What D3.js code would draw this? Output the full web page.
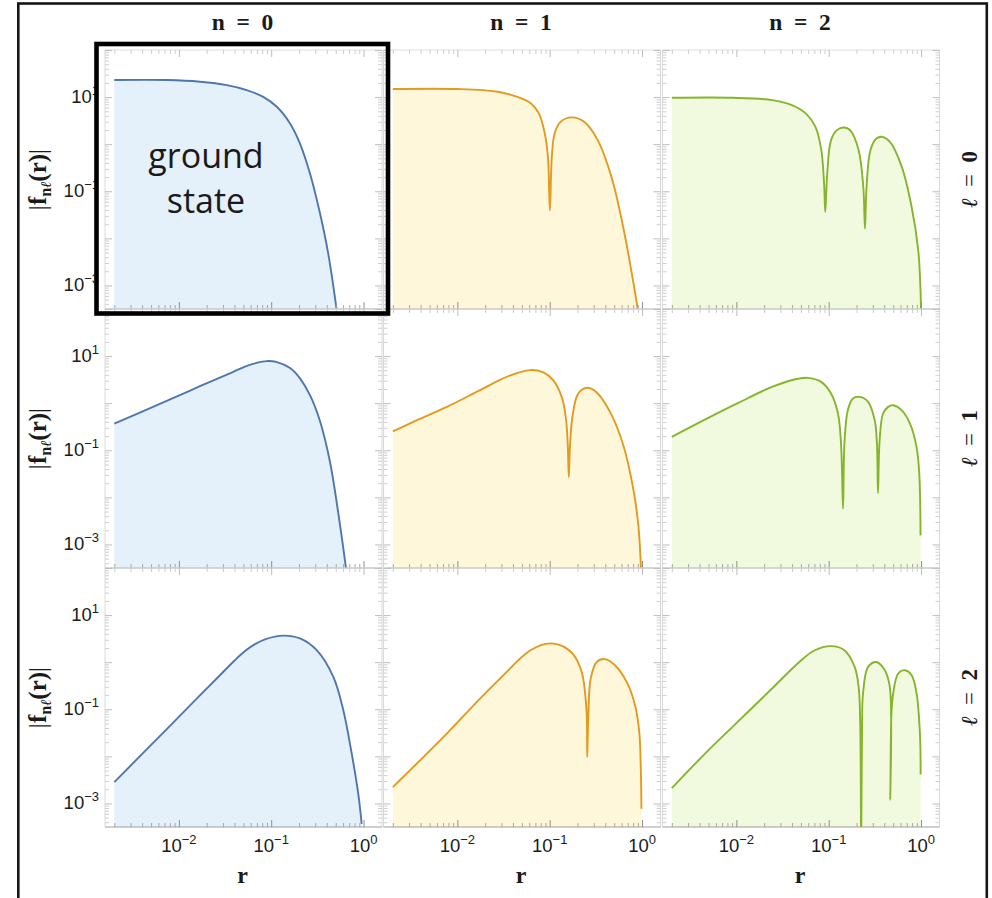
<!DOCTYPE html>
<html>
<head>
<meta charset="utf-8">
<script src="https://cdn.jsdelivr.net/npm/d3@7"></script>
<style>
  body { margin: 0; background: #fff; }
  svg { display: block; }
</style>
</head>
<body>
<svg id="chart" width="992" height="898"></svg>
<script>
// Radial amplitudes |f_nℓ(r)| as [r, |f|] pairs, one array per (ℓ, n).
const l0n0 = [[0.002, 23.0], [0.0074, 23.0], [0.0169, 21.2], [0.033, 18.0], [0.0543, 14.1], [0.082, 10.1],
  [0.115, 6.22], [0.160, 2.75], [0.205, 1.03], [0.263, 0.238], [0.338, 0.0336], [0.415, 0.0047], [0.512, 0.0003]];
const l0n1 = [[0.002, 14.8], [0.0103, 14.8], [0.0273, 13.0], [0.0446, 10.1], [0.0628, 7.34], [0.0764, 4.50],
  [0.0885, 1.69], [0.0957, 0.537], [0.1005, 0.0394], [0.1054, 0.537], [0.113, 1.69], [0.131, 2.98], [0.175, 3.70],
  [0.236, 2.98], [0.331, 1.22], [0.467, 0.201], [0.625, 0.0174], [0.798, 0.00128], [0.897, 0.00032]];
const l0n2 = [[0.002, 9.66], [0.0092, 9.66], [0.0245, 8.63], [0.0399, 6.76], [0.0564, 4.50], [0.0719, 2.33],
  [0.0832, 0.745], [0.0891, 0.146], [0.0918, 0.0363], [0.0964, 0.238], [0.106, 1.22], [0.123, 1.99], [0.146, 2.26],
  [0.173, 1.92], [0.211, 0.745], [0.237, 0.123], [0.247, 0.0161], [0.257, 0.123], [0.283, 0.745], [0.328, 1.32],
  [0.380, 1.43], [0.461, 1.12], [0.619, 0.329], [0.791, 0.0464], [0.933, 0.00556], [0.985, 0.0009], [1.0, 0.0003]];
const l1n0 = [[0.002, 0.370], [0.00738, 1.12], [0.0169, 2.29], [0.0389, 4.63], [0.052, 5.98], [0.0684, 7.10],
  [0.0893, 7.83], [0.1156, 7.45], [0.160, 5.56], [0.205, 3.36], [0.263, 1.48], [0.338, 0.414], [0.434, 0.0556],
  [0.556, 0.0026], [0.646, 0.00031], [0.714, 0.000065]];
const l1n1 = [[0.002, 0.253], [0.00333, 0.40], [0.00768, 0.834], [0.0176, 1.89], [0.0342, 3.63], [0.0612, 5.04],
  [0.0853, 4.50], [0.109, 3.08], [0.135, 1.36], [0.150, 0.472], [0.157, 0.128], [0.161, 0.027], [0.166, 0.128],
  [0.177, 0.555], [0.204, 1.61], [0.255, 2.12], [0.323, 1.69], [0.450, 0.653], [0.627, 0.128], [0.803, 0.0153],
  [0.912, 0.00254], [0.975, 0.0003]];
const l1n2 = [[0.002, 0.192], [0.00444, 0.435], [0.0102, 0.986], [0.0236, 2.16], [0.0424, 3.19], [0.0593, 3.45],
  [0.0828, 2.84], [0.106, 1.61], [0.126, 0.604], [0.136, 0.139], [0.143, 0.00575], [0.148, 0.139], [0.161, 0.71],
  [0.183, 1.26], [0.216, 1.36], [0.267, 1.07], [0.315, 0.435], [0.333, 0.139], [0.342, 0.0123], [0.356, 0.163],
  [0.388, 0.604], [0.44, 0.834], [0.499, 0.906], [0.615, 0.71], [0.759, 0.37], [0.895, 0.117], [0.957, 0.0319],
  [0.988, 0.00155]];
const l2n0 = [[0.002, 0.00284], [0.0074, 0.038], [0.0169, 0.197], [0.0257, 0.45], [0.0406, 1.114], [0.052, 1.73],
  [0.0668, 2.42], [0.0857, 3.06], [0.135, 3.66], [0.205, 3.19], [0.311, 1.80], [0.471, 0.486], [0.604, 0.0953],
  [0.745, 0.0114], [0.877, 0.0016], [0.955, 0.00037]];
const l2n1 = [[0.002, 0.00222], [0.00768, 0.0304], [0.0176, 0.169], [0.0342, 0.622], [0.0461, 1.12], [0.0612, 1.77],
  [0.0805, 2.31], [0.105, 2.51], [0.136, 2.21], [0.180, 1.46], [0.222, 0.622], [0.241, 0.233], [0.252, 0.0745],
  [0.255, 0.00966], [0.262, 0.0745], [0.278, 0.45], [0.323, 1.01], [0.397, 1.16], [0.509, 0.863], [0.682, 0.381],
  [0.84, 0.122], [0.933, 0.0329], [0.968, 0.00644], [0.985, 0.00077]];
const l2n2 = [[0.002, 0.00212], [0.00444, 0.01076], [0.0102, 0.0528], [0.0236, 0.260], [0.0491, 1.05], [0.070, 1.77],
  [0.106, 2.19], [0.148, 1.80], [0.191, 0.794], [0.211, 0.298], [0.2198, 0.042], [0.2247, 0.0001], [0.2297, 0.042],
  [0.2354, 0.216], [0.267, 0.794], [0.329, 1.01], [0.405, 0.676], [0.459, 0.298], [0.464, 0.0012], [0.478, 0.081],
  [0.499, 0.216], [0.566, 0.575], [0.668, 0.676], [0.791, 0.529], [0.895, 0.216], [0.973, 0.0304], [0.99, 0.0041]];

const series = [[l0n0, l0n1, l0n2], [l1n0, l1n1, l1n2], [l2n0, l2n1, l2n2]];
const nValues = ["0", "1", "2"];
const lValues = ["0", "1", "2"];
const xLabelExps = [-2, -1, 0];
const yLabelExps = [1, -1, -3];

// Per-n colours: line and light fill below it
const lineColors = ["#4f77ad", "#e39a1d", "#86b52c"];
const fillColors = ["#e4f0fa", "#fff7da", "#f1fadf"];

// Grid geometry
const W = 992, H = 898;
const colLeft = [105, 383.5, 662.5];
const rowTop = [50, 309, 568];
const panelW = 277, panelH = 259;

const svg = d3.select("#chart");
svg.append("rect").attr("width", W).attr("height", H).attr("fill", "#fff");

const x = d3.scaleLog().domain([Math.pow(10, -2.8), Math.pow(10, 0.2)]).range([0, panelW]);
const y = d3.scaleLog().domain([Math.pow(10, -3.5), 100]).range([panelH, 0]);

const inDom = (s) => (v) => v >= s.domain()[0] * 0.9999 && v <= s.domain()[1] * 1.0001;
const decadeTicks = (lo, hi) => d3.range(lo, hi + 1).map(e => Math.pow(10, e));
const minorTicks = (lo, hi) => d3.range(lo, hi + 1).flatMap(e => d3.range(2, 10).map(m => m * Math.pow(10, e)));
const xMajor = decadeTicks(-3, 0).filter(inDom(x));
const xMinor = minorTicks(-3, 0).filter(inDom(x));
const yMajor = decadeTicks(-4, 2).filter(inDom(y));
const yMinor = minorTicks(-4, 1).filter(inDom(y));

const curve = d3.curveCatmullRom.alpha(0.5);
const line = d3.line().x(d => x(d[0])).y(d => y(d[1])).curve(curve);
const area = d3.area().x(d => x(d[0])).y0(panelH).y1(d => y(d[1])).curve(curve);

const defs = svg.append("defs");
defs.append("clipPath").attr("id", "panel-clip")
  .append("rect").attr("x", 0).attr("y", 0).attr("width", panelW).attr("height", panelH);

function styleTicks(g, color) {
  g.select(".domain").remove();
  g.selectAll(".tick line").attr("stroke", color).attr("stroke-width", 1);
  g.selectAll(".tick text").remove();
}

series.forEach((row, li) => {
  row.forEach((data, ni) => {
    const g = svg.append("g").attr("transform", `translate(${colLeft[ni]},${rowTop[li]})`);
    const plot = g.append("g").attr("clip-path", "url(#panel-clip)");
    plot.append("path").datum(data).attr("d", area).attr("fill", fillColors[ni]);
    plot.append("path").datum(data).attr("d", line)
      .attr("fill", "none").attr("stroke", lineColors[ni]).attr("stroke-width", 1.9)
      .attr("stroke-linejoin", "round");

    // frame edges
    g.append("line").attr("x1", 0).attr("x2", panelW).attr("y1", 0).attr("y2", 0)
      .attr("stroke", "#dedede");
    g.append("line").attr("x1", 0).attr("x2", 0).attr("y1", 0).attr("y2", panelH)
      .attr("stroke", "#dadada");
    g.append("line").attr("x1", panelW).attr("x2", panelW).attr("y1", 0).attr("y2", panelH)
      .attr("stroke", "#dadada");
    g.append("line").attr("x1", 0).attr("x2", panelW).attr("y1", panelH).attr("y2", panelH)
      .attr("stroke", "#9d9d9d");

    // inward ticks on all four sides
    g.append("g").attr("transform", `translate(0,${panelH})`)
      .call(d3.axisBottom(x).tickValues(xMajor).tickSize(-7).tickFormat(""))
      .call(s => styleTicks(s, "#8f8f8f"));
    g.append("g").attr("transform", `translate(0,${panelH})`)
      .call(d3.axisBottom(x).tickValues(xMinor).tickSize(-4).tickFormat(""))
      .call(s => styleTicks(s, "#a8a8a8"));
    g.append("g")
      .call(d3.axisTop(x).tickValues(xMajor).tickSize(-7).tickFormat(""))
      .call(s => styleTicks(s, "#bcbcbc"));
    g.append("g")
      .call(d3.axisTop(x).tickValues(xMinor).tickSize(-4).tickFormat(""))
      .call(s => styleTicks(s, "#cccccc"));
    g.append("g")
      .call(d3.axisLeft(y).tickValues(yMajor).tickSize(-7).tickFormat(""))
      .call(s => styleTicks(s, "#bdbdbd"));
    g.append("g")
      .call(d3.axisLeft(y).tickValues(yMinor).tickSize(-4).tickFormat(""))
      .call(s => styleTicks(s, "#cfcfcf"));
    g.append("g").attr("transform", `translate(${panelW},0)`)
      .call(d3.axisRight(y).tickValues(yMajor).tickSize(-7).tickFormat(""))
      .call(s => styleTicks(s, "#bdbdbd"));
    g.append("g").attr("transform", `translate(${panelW},0)`)
      .call(d3.axisRight(y).tickValues(yMinor).tickSize(-4).tickFormat(""))
      .call(s => styleTicks(s, "#cfcfcf"));
  });
});

// power-of-ten tick labels
function powerLabel(sel, e) {
  sel.append("tspan").text("10");
  sel.append("tspan").attr("dy", -8).style("font-size", "13px")
    .text(e < 0 ? "\u2212" + (-e) : String(e));
}
const tickFont = "'Liberation Sans', Arial, sans-serif";

// y labels on the left column
rowTop.forEach(top => {
  yLabelExps.forEach(e => {
    const t = svg.append("text")
      .attr("x", colLeft[0] - 6).attr("y", top + y(Math.pow(10, e)) + 6)
      .attr("text-anchor", "end")
      .style("font-family", tickFont).style("font-size", "18.5px").attr("fill", "#1a1a1a");
    powerLabel(t, e);
  });
});

// x labels under the bottom row
const bottomY = rowTop[2] + panelH;
colLeft.forEach(left => {
  xLabelExps.forEach(e => {
    const t = svg.append("text")
      .attr("x", left + x(Math.pow(10, e))).attr("y", bottomY + 25)
      .attr("text-anchor", "middle")
      .style("font-family", tickFont).style("font-size", "18.5px").attr("fill", "#1a1a1a");
    powerLabel(t, e);
  });
});

const serif = "'Liberation Serif', 'Times New Roman', serif";

// x axis titles
colLeft.forEach(left => {
  svg.append("text").attr("x", left + panelW / 2 - 1).attr("y", bottomY + 56)
    .attr("text-anchor", "middle")
    .style("font-family", serif).style("font-size", "24px").style("font-weight", "bold")
    .attr("fill", "#1a1a1a").text("r");
});

// y axis titles |f_nℓ(r)|
rowTop.forEach(top => {
  const t = svg.append("text")
    .attr("transform", `translate(46,${top + panelH / 2}) rotate(-90)`)
    .attr("text-anchor", "middle")
    .style("font-family", serif).style("font-size", "25px").attr("fill", "#1a1a1a");
  t.append("tspan").text("|");
  t.append("tspan").style("font-weight", "bold").text("f");
  t.append("tspan").attr("dy", 5).style("font-size", "16px").style("font-weight", "bold").text("n");
  t.append("tspan").style("font-size", "15px").style("font-style", "italic")
    .style("font-family", "'DejaVu Serif', serif").text("\u2113");
  t.append("tspan").attr("dy", -5).style("font-weight", "bold").text("(r)");
  t.append("tspan").text("|");
});

// column headers n = …
colLeft.forEach((left, i) => {
  svg.append("text").attr("x", left + panelW / 2 - 1).attr("y", 30)
    .attr("text-anchor", "middle").attr("xml:space", "preserve")
    .style("font-family", serif).style("font-size", "23.5px").style("font-weight", "bold")
    .attr("fill", "#1a1a1a").text("n\u2002=\u2002" + nValues[i]);
});

// row headers ℓ = …
rowTop.forEach((top, i) => {
  const t = svg.append("text")
    .attr("transform", `translate(977,${top + panelH / 2}) rotate(-90)`)
    .attr("text-anchor", "middle")
    .style("font-family", serif).style("font-size", "23px").attr("fill", "#1a1a1a");
  t.append("tspan").style("font-style", "italic").text("\u2113");
  t.append("tspan").text("\u2002=\u2002");
  t.append("tspan").style("font-weight", "bold").text(lValues[i]);
});

// outer border
svg.append("rect").attr("x", 18.3).attr("y", 3.5).attr("width", 968.5).attr("height", 910)
  .attr("fill", "none").attr("stroke", "#161616").attr("stroke-width", 2.6);

// highlighted ground-state panel
svg.append("rect").attr("x", 96.5).attr("y", 44).attr("width", 291.5).attr("height", 269.5)
  .attr("fill", "none").attr("stroke", "#000").attr("stroke-width", 4.6);
const gs = svg.append("text").attr("text-anchor", "middle")
  .style("font-family", "'Open Sans', 'Noto Sans', sans-serif").style("font-size", "34px")
  .attr("fill", "#1a1a1a");
gs.append("tspan").attr("x", 206).attr("y", 168).text("ground");
gs.append("tspan").attr("x", 206).attr("y", 213).text("state");
</script>
</body>
</html>
